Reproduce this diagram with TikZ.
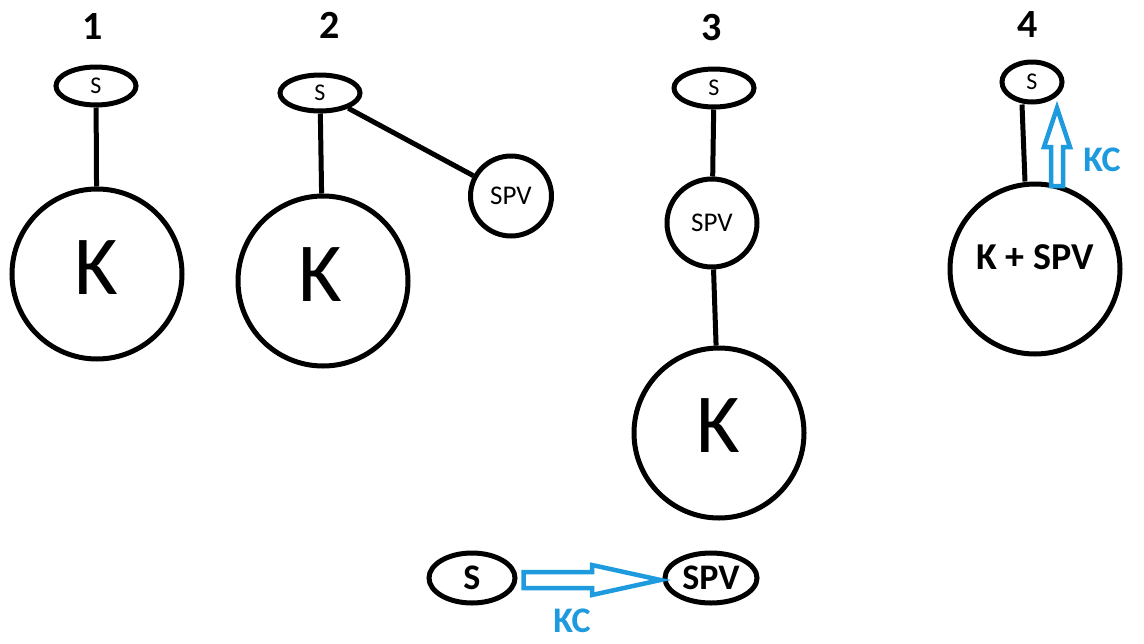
\documentclass[tikz,border=0pt]{standalone}
\usepackage{fontspec}
\setmainfont{Carlito}
\usetikzlibrary{shapes.geometric,calc}
\definecolor{kcblue}{RGB}{30,155,222}
\tikzset{
  ln/.style={line width=5pt, black},
  ov/.style={ellipse, draw=black, line width=5pt, inner sep=0pt, fill=white},
  big/.style={circle, draw=black, line width=5pt, inner sep=0pt, minimum size=170pt, fill=white},
  num/.style={font=\fontsize{40}{42}\selectfont\bfseries},
  small/.style={font=\fontsize{24}{26}\selectfont},
  mid/.style={font=\fontsize{27}{29}\selectfont},
  kk/.style={font=\fontsize{84}{90}\selectfont},
  bold/.style={font=\fontsize{36}{38}\selectfont\bfseries},
  kclab/.style={text=kcblue, font=\fontsize{36}{38}\selectfont\bfseries},
  kcarrow/.style={draw=kcblue, line width=4.5pt, line join=miter, fill=white}
}
\begin{document}
\begin{tikzpicture}[x=1pt,y=-1pt]
\useasboundingbox (0,0) rectangle (1144,643);
% panel 1
\node[num] (n1) at (93,27) {1};
\node[ov, minimum width=80pt, minimum height=38pt, small] (s1) at (96,86) {S};
\node[big] (k1) at (97,274) {};
\node[kk] (kt1) at (96,268) {K};
\draw[ln] (s1) -- (k1);
% panel 2
\node[num] (n2) at (330,25) {2};
\node[ov, minimum width=80pt, minimum height=36pt, small] (s2) at (320,93) {S};
\node[big] (k2) at (323,281) {};
\node[kk] (kt2) at (320,275) {K};
\node[ov, minimum width=81pt, minimum height=80pt, mid] (v2) at (511,196) {SPV};
\draw[ln] (s2) -- (k2);
\draw[ln] (s2) -- (v2);
% panel 3
\node[num] (n3) at (712,28) {3};
\node[ov, minimum width=80pt, minimum height=38pt, small] (s3) at (714,88) {S};
\node[ov, minimum width=90pt, minimum height=88pt, mid] (v3) at (712,223) {SPV};
\node[big] (k3) at (719,433) {};
\node[kk] (kt3) at (718,426) {K};
\draw[ln] (s3) -- (v3);
\draw[ln] (v3) -- (k3);
% panel 4
\node[num] (n4) at (1028,25) {4};
\node[ov, minimum width=60pt, minimum height=40pt, small] (s4) at (1032,82) {S};
\node[big] (k4) at (1035,269) {};
\node[font=\fontsize{38}{40}\selectfont\bfseries] (kt4) at (1035,257) {K + SPV};
\draw[ln] ([xshift=-10pt]s4.south) -- ([xshift=-10pt]k4.north);
\coordinate (a4b) at (1057,186);
\coordinate (a4t) at (1057,108);
\coordinate (a4h) at (1057,147);
\draw[kcarrow] ($(a4b)+(-6,0)$) -- ($(a4h)+(-6,0)$) -- ($(a4h)+(-13,0)$) -- (a4t)
  -- ($(a4h)+(13,0)$) -- ($(a4h)+(6,0)$) -- ($(a4b)+(6,0)$) -- cycle;
\node[kclab] (kc4) at (1102,160) {KC};
% bottom
\node[ov, minimum width=86pt, minimum height=50pt, bold] (bs) at (472,578) {S};
\node[ov, minimum width=92pt, minimum height=50pt, bold] (bv) at (711,578) {SPV};
\coordinate (hb) at (592,580);
\coordinate (ab) at ($(bs.east)+(6,2)$);
\coordinate (at) at ($(bv.west)+(-2,2)$);
\draw[kcarrow] ($(ab)+(0,-8)$) -- ($(hb)+(0,-8)$) -- ($(hb)+(0,-15)$) -- (at)
  -- ($(hb)+(0,15)$) -- ($(hb)+(0,8)$) -- ($(ab)+(0,8)$) -- cycle;
\node[kclab] (kcb) at (572,621) {KC};
\end{tikzpicture}
\end{document}
